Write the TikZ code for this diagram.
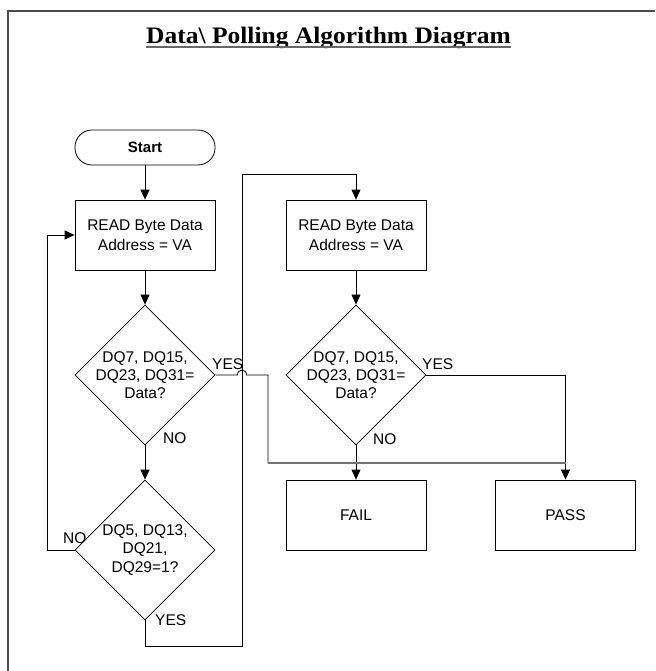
\documentclass[tikz,border=0pt]{standalone}
\usepackage{fontspec}
\usepackage{graphicx}
\setmainfont{Liberation Sans}
\newfontfamily\titlefont{Liberation Serif}
\usetikzlibrary{shapes.geometric,arrows.meta}

\begin{document}
\begin{tikzpicture}[x=1pt,y=-1pt,
  procbox/.style={draw,line width=0.8pt,minimum width=140pt,minimum height=70pt,inner sep=0pt,align=center,font=\fontsize{15.5}{20}\selectfont},
  termbox/.style={draw,line width=0.8pt,rounded corners=17pt,minimum width=140pt,minimum height=35pt,inner sep=0pt,font=\bfseries\fontsize{15}{18}\selectfont},
  decbox/.style={draw,diamond,line width=0.8pt,shape aspect=1,minimum size=140pt,inner sep=-3pt,align=center,font=\fontsize{15.5}{18.3}\selectfont},
  lbl/.style={anchor=base west,inner sep=0pt,font=\fontsize{15.5}{18}\selectfont},
  flow/.style={line width=0.8pt,-{Triangle[length=10pt,width=9pt]}},
  wire/.style={line width=0.8pt},
  joinline/.style={line width=1.6pt,draw=black!55},
  titleline/.style={line width=2pt,draw=black!60},
  frameline/.style={line width=2pt,draw=black!70}]
\useasboundingbox (0,0) rectangle (655,671);

%Frame
\draw[frameline] (655,11) -- (8,11) -- (8,671);

% Title
\node[anchor=base,inner sep=0pt] (title) at (328.5,43.3) {\titlefont\bfseries\fontsize{23.6}{26}\selectfont\scalebox{1.08}[1]{Data\textbackslash\ Polling Algorithm Diagram}};
\draw[titleline] ([yshift=-4pt]title.base west) -- ([yshift=-4pt]title.base east);

%Shape: Terminal
\node[termbox] (start) at (145,147.5) {Start};
%Shape: Rectangle
\node[procbox] (read1) at (145,235) {READ Byte Data\\Address = VA};
%Shape: Rectangle
\node[procbox] (read2) at (356,235) {READ Byte Data\\Address = VA};
%Shape: Diamond
\node[decbox] (dq1) at (145,375) {DQ7, DQ15,\\DQ23, DQ31=\\Data?};
%Shape: Diamond
\node[decbox] (dq2) at (356,375) {DQ7, DQ15,\\DQ23, DQ31=\\Data?};
%Shape: Diamond
\node[decbox] (dq3) at (145,550) {DQ5, DQ13,\\DQ21,\\DQ29=1?};
%Shape: Rectangle
\node[procbox] (fail) at (356,515) {FAIL};
%Shape: Rectangle
\node[procbox] (pass) at (565.5,515) {PASS};

% Corner points
\coordinate (yesB) at (145,646);
\coordinate (yesR) at (242,646);
\coordinate (yesT) at (242,174);
\coordinate (hopA) at (237.5,375);
\coordinate (hopB) at (246.5,375);
\coordinate (bendA) at (268,375);
\coordinate (bendB) at (268,463);
\coordinate (joinP) at (565.5,463);

%Straight Lines
\draw[flow] (start) -- (read1);
\draw[flow] (read1) -- (dq1);
\draw[flow] (dq1.south) -- (dq3.north);
\draw[flow] (dq3.west) -- ++(-27,0) |- (read1.west);
\draw[flow] (dq3.south) -- (yesB) -- (yesR) -- (yesT) -| (read2.north);
\draw[flow] (read2) -- (dq2);
\draw[flow] (dq2.south) -- (fail.north);
\draw[flow] (dq2.east) -| (pass.north);
\draw[wire] (dq1.east) -- (hopA) .. controls (237.5,368.5) and (246.5,368.5) .. (hopB) -- (bendA) -- (bendB);
\draw[joinline] (bendB) -- (joinP);

% Text Node
\node[lbl] (yes1) at (212,369) {YES};
\node[lbl] (no1) at (163,443) {NO};
\node[lbl] (yes2) at (422,369) {YES};
\node[lbl] (no2) at (373,444) {NO};
\node[lbl] (no3) at (63,543) {NO};
\node[lbl] (yes3) at (155,625) {YES};

\end{tikzpicture}
\end{document}
